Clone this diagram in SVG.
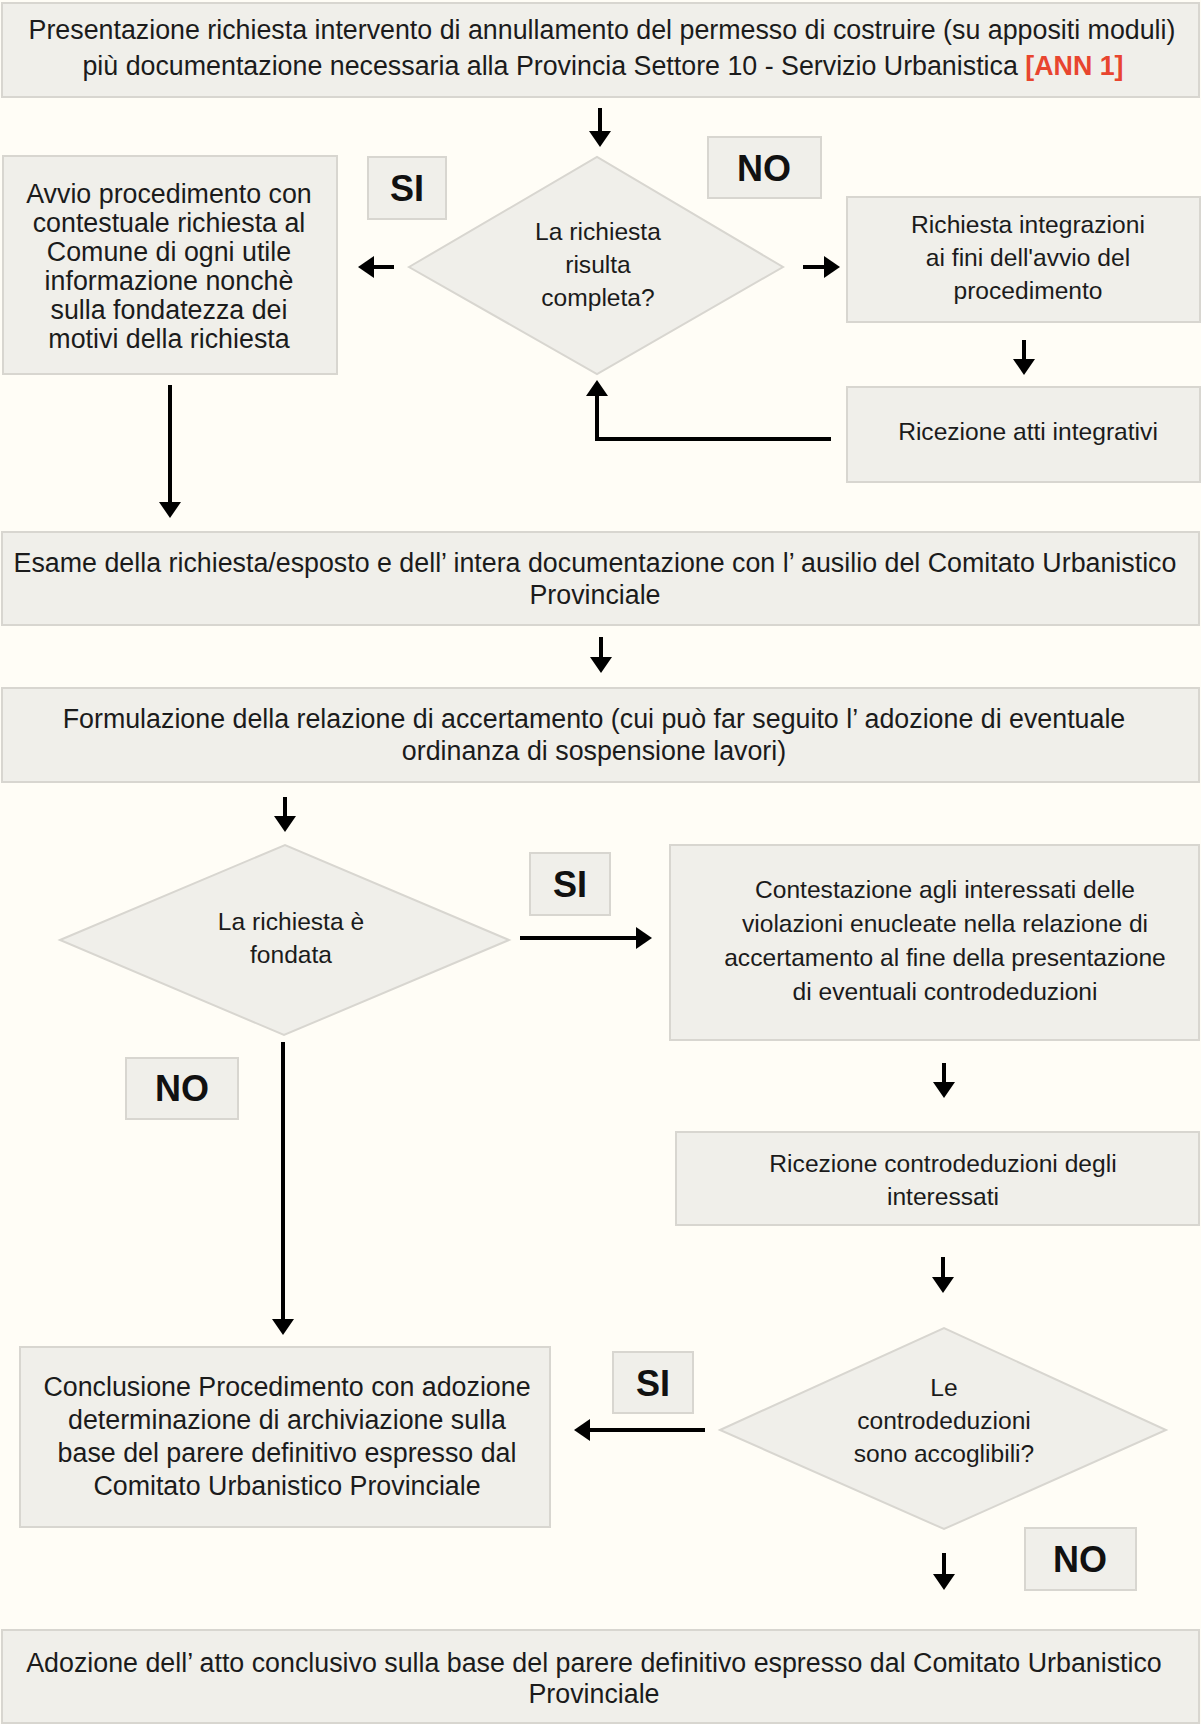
<svg xmlns="http://www.w3.org/2000/svg" width="1201" height="1724" viewBox="0 0 1201 1724">
  <style>
    .box { fill: #f0efea; stroke: #d8d6d0; stroke-width: 2; }
    .t { font-family: "Liberation Sans", Arial, sans-serif; font-size: 24.6px; fill: #1b1b1b; text-anchor: middle; }
    .w { font-size: 26.8px; }
    .lbl { font-family: "Liberation Sans", Arial, sans-serif; font-size: 36px; font-weight: bold; fill: #111; text-anchor: middle; }
    .ref { fill: #e8452f; font-weight: bold; }
    .conn { stroke: #000; stroke-width: 4; fill: none; marker-end: url(#ah); }
  </style>
  <defs>
    <marker id="ah" viewBox="0 0 16 22" refX="1" refY="11" markerWidth="16" markerHeight="22" markerUnits="userSpaceOnUse" orient="auto">
      <path d="M0,0 L16,11 L0,22 Z" fill="#000"/>
    </marker>
  </defs>

  <rect x="0" y="0" width="1201" height="1724" fill="#fffdf6"/>

  <!-- connectors -->
  <g id="connectors">
    <path class="conn" d="M600,108 V132"/>
    <path class="conn" d="M394,267 H373"/>
    <path class="conn" d="M803,267 H825"/>
    <path class="conn" d="M1024,340 V360"/>
    <path class="conn" d="M831,439 H597 V395"/>
    <path class="conn" d="M170,385 V503"/>
    <path class="conn" d="M601,637 V658"/>
    <path class="conn" d="M285,797 V817"/>
    <path class="conn" d="M520,938 H637"/>
    <path class="conn" d="M283,1042 V1320"/>
    <path class="conn" d="M944,1063 V1083"/>
    <path class="conn" d="M943,1257 V1278"/>
    <path class="conn" d="M705,1430 H589"/>
    <path class="conn" d="M944,1553 V1575"/>
  </g>

  <!-- request submission -->
  <g id="presentazione">
    <rect class="box" x="2" y="3" width="1197" height="94"/>
    <text class="t w" x="602" y="39">Presentazione richiesta intervento di annullamento del permesso di costruire (su appositi moduli)</text>
    <text class="t w" x="603" y="75">più documentazione necessaria alla Provincia Settore 10 - Servizio Urbanistica <tspan class="ref">[ANN 1]</tspan></text>
  </g>

  <g id="avvio">
    <rect class="box" x="3" y="156" width="334" height="218"/>
    <text class="t w" x="169" y="203">Avvio procedimento con</text>
    <text class="t w" x="169" y="232">contestuale richiesta al</text>
    <text class="t w" x="169" y="261">Comune di ogni utile</text>
    <text class="t w" x="169" y="290">informazione nonchè</text>
    <text class="t w" x="169" y="319">sulla fondatezza dei</text>
    <text class="t w" x="169" y="348">motivi della richiesta</text>
  </g>

  <g id="si-1">
    <rect class="box" x="368" y="157" width="78" height="62"/>
    <text class="lbl" x="407" y="201">SI</text>
  </g>

  <g id="completa">
    <polygon class="box" points="409,267 597,157 783,267 597,374"/>
    <text class="t" x="598" y="240">La richiesta</text>
    <text class="t" x="598" y="273">risulta</text>
    <text class="t" x="598" y="306">completa?</text>
  </g>

  <g id="no-1">
    <rect class="box" x="708" y="137" width="113" height="61"/>
    <text class="lbl" x="764" y="181">NO</text>
  </g>

  <g id="integrazioni">
    <rect class="box" x="847" y="197" width="353" height="125"/>
    <text class="t" x="1028" y="233">Richiesta integrazioni</text>
    <text class="t" x="1028" y="266">ai fini dell'avvio del</text>
    <text class="t" x="1028" y="299">procedimento</text>
  </g>

  <g id="ricezione-atti">
    <rect class="box" x="847" y="387" width="353" height="95"/>
    <text class="t" x="1028" y="440">Ricezione atti integrativi</text>
  </g>

  <g id="esame">
    <rect class="box" x="2" y="532" width="1197" height="93"/>
    <text class="t w" x="595" y="572">Esame della richiesta/esposto e dell’ intera documentazione con l’ ausilio del Comitato Urbanistico</text>
    <text class="t w" x="595" y="604">Provinciale</text>
  </g>

  <g id="formulazione">
    <rect class="box" x="2" y="688" width="1197" height="94"/>
    <text class="t w" x="594" y="728">Formulazione della relazione di accertamento (cui può far seguito l’ adozione di eventuale</text>
    <text class="t w" x="594" y="760">ordinanza di sospensione lavori)</text>
  </g>

  <g id="fondata">
    <polygon class="box" points="60,940 285,845 509,940 284,1035"/>
    <text class="t" x="291" y="930">La richiesta è</text>
    <text class="t" x="291" y="963">fondata</text>
  </g>

  <g id="si-2">
    <rect class="box" x="530" y="853" width="80" height="62"/>
    <text class="lbl" x="570" y="897">SI</text>
  </g>

  <g id="no-2">
    <rect class="box" x="126" y="1058" width="112" height="61"/>
    <text class="lbl" x="182" y="1101">NO</text>
  </g>

  <g id="contestazione">
    <rect class="box" x="670" y="845" width="529" height="195"/>
    <text class="t" x="945" y="898">Contestazione agli interessati delle</text>
    <text class="t" x="945" y="932">violazioni enucleate nella relazione di</text>
    <text class="t" x="945" y="966">accertamento al fine della presentazione</text>
    <text class="t" x="945" y="1000">di eventuali controdeduzioni</text>
  </g>

  <g id="ricezione-controdeduzioni">
    <rect class="box" x="676" y="1132" width="523" height="93"/>
    <text class="t" x="943" y="1172">Ricezione controdeduzioni degli</text>
    <text class="t" x="943" y="1205">interessati</text>
  </g>

  <g id="accoglibili">
    <polygon class="box" points="720,1430 944,1328 1166,1430 944,1529"/>
    <text class="t" x="944" y="1396">Le</text>
    <text class="t" x="944" y="1429">controdeduzioni</text>
    <text class="t" x="944" y="1462">sono accoglibili?</text>
  </g>

  <g id="si-3">
    <rect class="box" x="613" y="1352" width="80" height="61"/>
    <text class="lbl" x="653" y="1396">SI</text>
  </g>

  <g id="conclusione">
    <rect class="box" x="20" y="1347" width="530" height="180"/>
    <text class="t w" x="287" y="1396">Conclusione Procedimento con adozione</text>
    <text class="t w" x="287" y="1429">determinazione di archiviazione sulla</text>
    <text class="t w" x="287" y="1462">base del parere definitivo espresso dal</text>
    <text class="t w" x="287" y="1495">Comitato Urbanistico Provinciale</text>
  </g>

  <g id="no-3">
    <rect class="box" x="1025" y="1528" width="111" height="62"/>
    <text class="lbl" x="1080" y="1572">NO</text>
  </g>

  <g id="adozione">
    <rect class="box" x="2" y="1630" width="1197" height="93"/>
    <text class="t w" x="594" y="1672">Adozione dell’ atto conclusivo sulla base del parere definitivo espresso dal Comitato Urbanistico</text>
    <text class="t w" x="594" y="1703">Provinciale</text>
  </g>
</svg>
